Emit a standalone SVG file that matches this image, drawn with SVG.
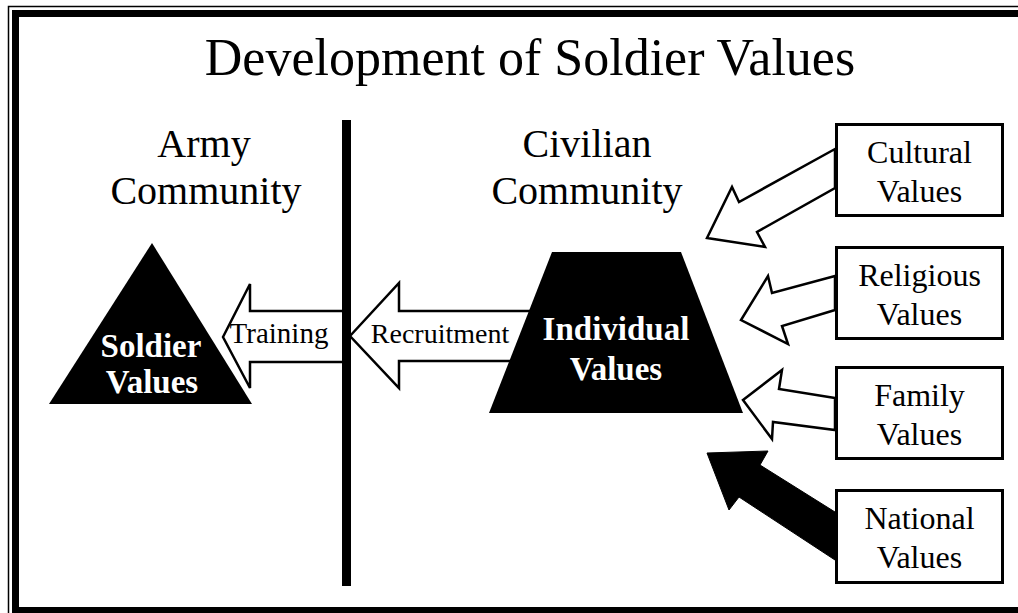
<svg xmlns="http://www.w3.org/2000/svg" width="1018" height="613" viewBox="0 0 1018 613">
<style>
text{font-family:"Liberation Serif","Times New Roman",serif;fill:#000}
.title{font-size:52px}
.comm{font-size:40px}
.box{fill:#fff;stroke:#000;stroke-width:3}
.blab{font-size:32px}
.wb{font-size:33px;font-weight:bold;fill:#fff}
.arr{fill:#fff;stroke:#000;stroke-width:2.5;stroke-linejoin:miter}
.arrlab{font-size:28px}
</style>
<rect x="0" y="0" width="1018" height="613" fill="#fff"/>
<g id="frame" fill="none" stroke="#000">
<rect x="8.5" y="6.5" width="1030" height="620" stroke-width="1.5"/>
<rect x="15.5" y="13.5" width="1030" height="597" stroke-width="7"/>
</g>
<text class="title" x="530" y="75" text-anchor="middle">Development of Soldier Values</text>
<g id="army-label"><text class="comm" x="204" y="157" text-anchor="middle">Army</text><text class="comm" x="206" y="204" text-anchor="middle">Community</text></g>
<g id="civilian-label"><text class="comm" x="587" y="157" text-anchor="middle">Civilian</text><text class="comm" x="587" y="204" text-anchor="middle">Community</text></g>
<g id="connectors">
<polygon class="arr" points="835,149 739,202 732,187 707,238 765,247 757,232 835,188"/>
<polygon class="arr" points="835,276 772,293 768,276 741,320 788,344 782,326 835,310"/>
<polygon class="arr" points="835,398 779,389 782,370 743,400 772,439 773,422 835,430"/>
<polygon fill="#000" stroke="#000" stroke-width="1" points="835,512 760,465 768,451 707,453 729,510 739,497 835,560"/>
<polygon class="arr" points="223,337 250,284 250,311 346,311 346,362 250,362 250,388"/>
<text class="arrlab" x="279" y="343" text-anchor="middle" style="font-size:29px">Training</text>
<polygon class="arr" points="350,336 399,283 399,311 540,311 540,361 399,361 399,388"/>
<text class="arrlab" x="440" y="343" text-anchor="middle">Recruitment</text>
</g>
<g id="divider"><rect x="342" y="120" width="9" height="466" fill="#000"/></g>
<g id="soldier-values">
<polygon points="152,243 49,404 252,404" fill="#000"/>
<text class="wb" x="151" y="357" text-anchor="middle">Soldier</text>
<text class="wb" x="152" y="393" text-anchor="middle">Values</text>
</g>
<g id="individual-values">
<polygon points="552,252 681,252 743,413 489,413" fill="#000"/>
<text class="wb" x="616" y="340" text-anchor="middle">Individual</text>
<text class="wb" x="616" y="380" text-anchor="middle">Values</text>
</g>
<g id="cultural">
<rect class="box" x="836.5" y="124.5" width="166" height="91"/>
<text class="blab" x="919.5" y="163" text-anchor="middle">Cultural</text>
<text class="blab" x="919.5" y="202" text-anchor="middle">Values</text>
</g>
<g id="religious">
<rect class="box" x="836.5" y="247.5" width="166" height="91"/>
<text class="blab" x="919.5" y="286" text-anchor="middle">Religious</text>
<text class="blab" x="919.5" y="325" text-anchor="middle">Values</text>
</g>
<g id="family">
<rect class="box" x="836.5" y="367.5" width="166" height="91"/>
<text class="blab" x="919.5" y="406" text-anchor="middle">Family</text>
<text class="blab" x="919.5" y="445" text-anchor="middle">Values</text>
</g>
<g id="national">
<rect class="box" x="836.5" y="490.5" width="166" height="92"/>
<text class="blab" x="919.5" y="529" text-anchor="middle">National</text>
<text class="blab" x="919.5" y="568" text-anchor="middle">Values</text>
</g>
</svg>
